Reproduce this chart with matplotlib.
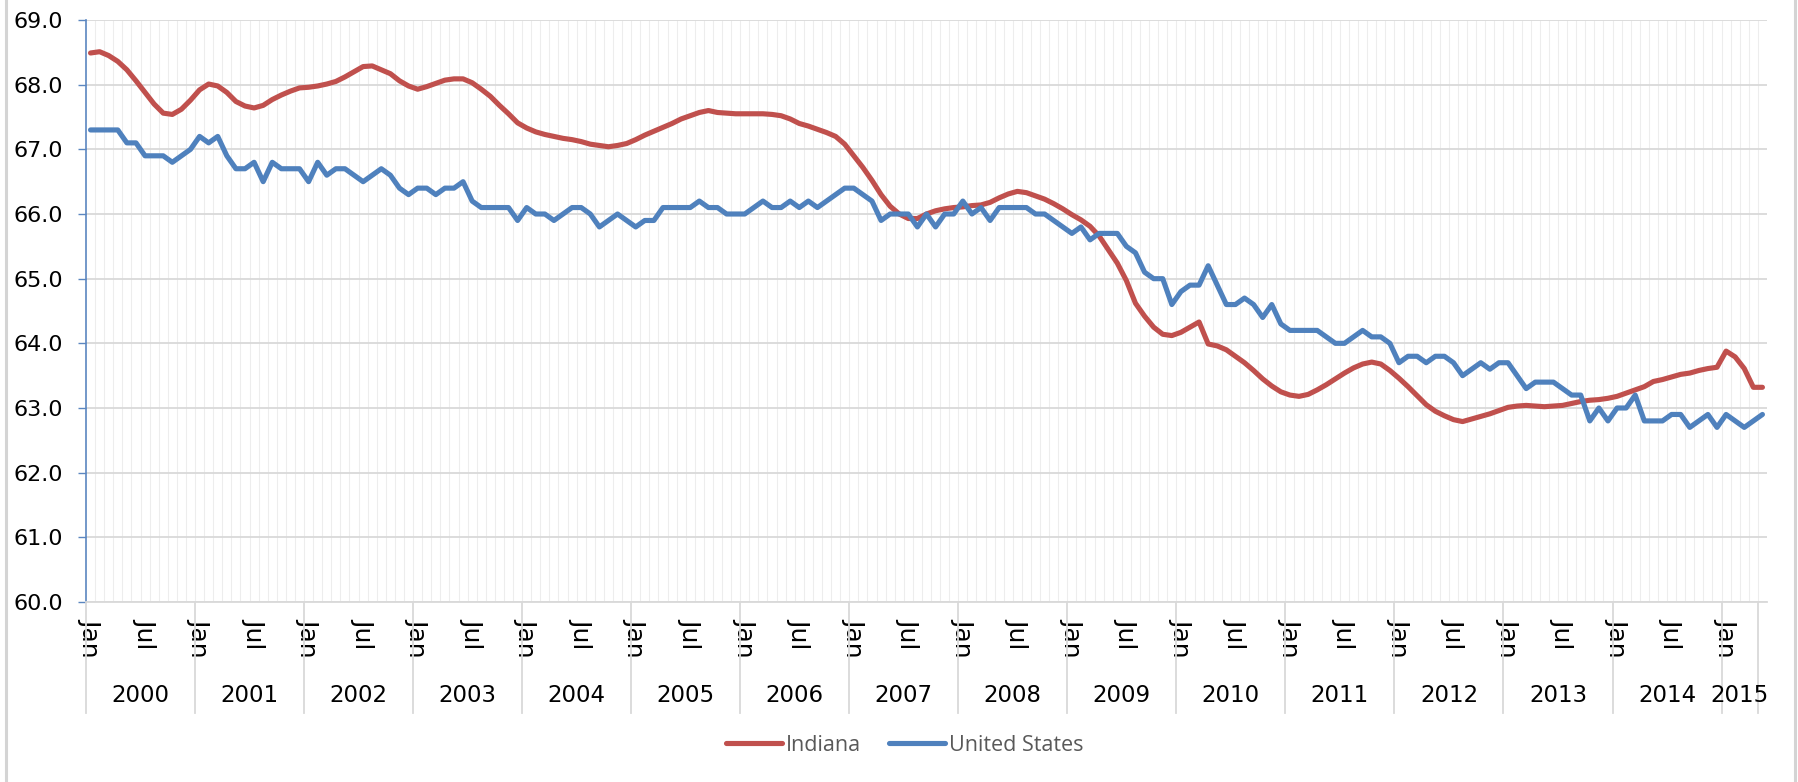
import matplotlib
matplotlib.use("Agg")
import matplotlib.pyplot as plt
import matplotlib.transforms as mtransforms
from matplotlib.lines import Line2D
from matplotlib.font_manager import FontProperties
import numpy as np

# ---------------- data ----------------
month_names = ['Jan', 'Feb', 'Mar', 'Apr', 'May', 'Jun',
               'Jul', 'Aug', 'Sep', 'Oct', 'Nov', 'Dec']
year_labels = ['2000', '2001', '2002', '2003', '2004', '2005', '2006', '2007',
               '2008', '2009', '2010', '2011', '2012', '2013', '2014', '2015']
year_group_sizes = [12] * 15 + [4]
shown_months = ['Jan', 'Jul']
y_ticks = [60.0, 61.0, 62.0, 63.0, 64.0, 65.0, 66.0, 67.0, 68.0, 69.0]

indiana = [
    68.49, 68.51, 68.45, 68.36, 68.23, 68.06, 67.88, 67.70, 67.56, 67.54, 67.62, 67.76,   # 2000
    67.92, 68.01, 67.98, 67.88, 67.74, 67.67, 67.64, 67.68, 67.77, 67.84, 67.90, 67.95,   # 2001
    67.96, 67.98, 68.01, 68.05, 68.12, 68.20, 68.28, 68.29, 68.23, 68.17, 68.06, 67.98,   # 2002
    67.93, 67.97, 68.02, 68.07, 68.09, 68.09, 68.03, 67.93, 67.82, 67.68, 67.55, 67.41,   # 2003
    67.33, 67.27, 67.23, 67.20, 67.17, 67.15, 67.12, 67.08, 67.06, 67.04, 67.06, 67.09,   # 2004
    67.15, 67.22, 67.28, 67.34, 67.40, 67.47, 67.52, 67.57, 67.60, 67.57, 67.56, 67.55,   # 2005
    67.55, 67.55, 67.55, 67.54, 67.52, 67.47, 67.40, 67.36, 67.31, 67.26, 67.20, 67.08,   # 2006
    66.90, 66.72, 66.52, 66.30, 66.12, 66.00, 65.93, 65.93, 66.00, 66.05, 66.08, 66.10,   # 2007
    66.11, 66.13, 66.14, 66.18, 66.25, 66.31, 66.35, 66.33, 66.28, 66.23, 66.16, 66.08,   # 2008
    65.99, 65.91, 65.81, 65.66, 65.45, 65.24, 64.97, 64.62, 64.42, 64.25, 64.14, 64.12,   # 2009
    64.17, 64.25, 64.33, 63.99, 63.96, 63.90, 63.80, 63.70, 63.58, 63.45, 63.34, 63.25,   # 2010
    63.20, 63.18, 63.21, 63.28, 63.36, 63.45, 63.54, 63.62, 63.68, 63.71, 63.68, 63.58,   # 2011
    63.46, 63.33, 63.19, 63.05, 62.95, 62.88, 62.82, 62.79, 62.83, 62.87, 62.91, 62.96,   # 2012
    63.01, 63.03, 63.04, 63.03, 63.02, 63.03, 63.04, 63.07, 63.10, 63.12, 63.13, 63.15,   # 2013
    63.18, 63.23, 63.28, 63.33, 63.41, 63.44, 63.48, 63.52, 63.54, 63.58, 63.61, 63.63,   # 2014
    63.88, 63.79, 63.61, 63.32, 63.32,                                                   # 2015
]

united_states = [
    67.3, 67.3, 67.3, 67.3, 67.1, 67.1, 66.9, 66.9, 66.9, 66.8, 66.9, 67.0,   # 2000
    67.2, 67.1, 67.2, 66.9, 66.7, 66.7, 66.8, 66.5, 66.8, 66.7, 66.7, 66.7,   # 2001
    66.5, 66.8, 66.6, 66.7, 66.7, 66.6, 66.5, 66.6, 66.7, 66.6, 66.4, 66.3,   # 2002
    66.4, 66.4, 66.3, 66.4, 66.4, 66.5, 66.2, 66.1, 66.1, 66.1, 66.1, 65.9,   # 2003
    66.1, 66.0, 66.0, 65.9, 66.0, 66.1, 66.1, 66.0, 65.8, 65.9, 66.0, 65.9,   # 2004
    65.8, 65.9, 65.9, 66.1, 66.1, 66.1, 66.1, 66.2, 66.1, 66.1, 66.0, 66.0,   # 2005
    66.0, 66.1, 66.2, 66.1, 66.1, 66.2, 66.1, 66.2, 66.1, 66.2, 66.3, 66.4,   # 2006
    66.4, 66.3, 66.2, 65.9, 66.0, 66.0, 66.0, 65.8, 66.0, 65.8, 66.0, 66.0,   # 2007
    66.2, 66.0, 66.1, 65.9, 66.1, 66.1, 66.1, 66.1, 66.0, 66.0, 65.9, 65.8,   # 2008
    65.7, 65.8, 65.6, 65.7, 65.7, 65.7, 65.5, 65.4, 65.1, 65.0, 65.0, 64.6,   # 2009
    64.8, 64.9, 64.9, 65.2, 64.9, 64.6, 64.6, 64.7, 64.6, 64.4, 64.6, 64.3,   # 2010
    64.2, 64.2, 64.2, 64.2, 64.1, 64.0, 64.0, 64.1, 64.2, 64.1, 64.1, 64.0,   # 2011
    63.7, 63.8, 63.8, 63.7, 63.8, 63.8, 63.7, 63.5, 63.6, 63.7, 63.6, 63.7,   # 2012
    63.7, 63.5, 63.3, 63.4, 63.4, 63.4, 63.3, 63.2, 63.2, 62.8, 63.0, 62.8,   # 2013
    63.0, 63.0, 63.2, 62.8, 62.8, 62.8, 62.9, 62.9, 62.7, 62.8, 62.9, 62.7,   # 2014
    62.9, 62.8, 62.7, 62.8, 62.9,                                             # 2015
]

# ---------------- figure ----------------
RED = '#C0504D'
BLUE = '#4F81BD'
GRID = '#D9D9D9'

n = len(indiana)
x = np.arange(n)
months = [month_names[i % 12] for i in range(n)]

fig = plt.figure(figsize=(17.99, 7.82), dpi=100)
ax = fig.add_axes([0.0478, 0.2302, 0.9344, 0.7442])
ax.set_xlim(-0.5, n - 0.5)
ax.set_ylim(y_ticks[0], y_ticks[-1])

# light monthly vertical gridlines
ax.vlines(x[:-1] + 0.5, y_ticks[0], y_ticks[-1], colors='#EDEDED', lw=0.8, zorder=0)
# horizontal gridlines
ax.set_yticks(y_ticks)
ax.set_yticklabels([f"{v:.1f}" for v in y_ticks])
ax.yaxis.grid(True, color=GRID, lw=1.3, zorder=0)
ax.set_axisbelow(True)

ax.plot(x, indiana, color=RED, lw=3.7, solid_joinstyle='round',
        solid_capstyle='round', label='Indiana', zorder=3)
ax.plot(x, united_states, color=BLUE, lw=3.7, solid_joinstyle='round',
        solid_capstyle='round', label='United States', zorder=4)

for s in ['top', 'right']:
    ax.spines[s].set_visible(False)
ax.spines['left'].set_color('#5B86C0')
ax.spines['left'].set_linewidth(1.2)
ax.spines['bottom'].set_color(GRID)
ax.spines['bottom'].set_linewidth(1.3)

ax.tick_params(axis='y', length=5.8, width=1.0, color='#5B86C0', pad=11,
               labelsize=16, labelcolor='black')
for lab in ax.get_yticklabels():
    lab.set_fontfamily('DejaVu Sans')

tick_pos = [i for i in range(n) if months[i] in shown_months]
ax.set_xticks(tick_pos)
ax.set_xticklabels([months[i] for i in tick_pos], rotation=270,
                   fontsize=18, color='black', family='DejaVu Sans')
ax.tick_params(axis='x', length=0, pad=11.5)

# year group separators & labels
trans = mtransforms.blended_transform_factory(ax.transData, fig.transFigure)
bounds = np.concatenate([[-0.5], -0.5 + np.cumsum(year_group_sizes)])
for b in bounds:
    ax.plot([b, b], [0.0882, 0.2302], transform=trans, color=GRID, lw=1.3,
            clip_on=False, zorder=1)
for lab, lo, hi in zip(year_labels, bounds[:-1], bounds[1:]):
    ax.text((lo + hi) / 2.0, 0.110, lab, transform=trans, ha='center',
            va='center', fontsize=16.5, family='DejaVu Sans', color='black')

# legend
handles, labels = ax.get_legend_handles_labels()
fig.legend(handles, labels, loc='center', bbox_to_anchor=(0.503, 0.047),
           ncol=2, frameon=False, prop=FontProperties(family='Open Sans', size=15.5),
           labelcolor='#595959', handlelength=2.6, handletextpad=0.2,
           columnspacing=1.3)

# chart border (left/right edges visible)
fig.add_artist(Line2D([0.0035, 0.0035], [0, 1], transform=fig.transFigure,
                      color='#D4D4D4', lw=2.2))
fig.add_artist(Line2D([0.9978, 0.9978], [0, 1], transform=fig.transFigure,
                      color='#D4D4D4', lw=2.2))

fig.savefig('out.png', dpi=100, facecolor='white')
